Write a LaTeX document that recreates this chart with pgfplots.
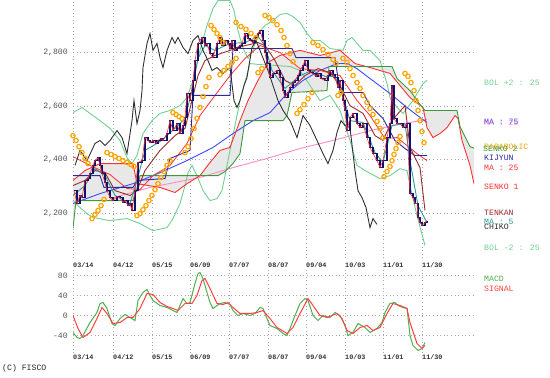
\documentclass[border=0pt]{standalone}
\usepackage{fontspec}
\setmainfont{Liberation Mono}
\usepackage{pgfplots}
\pgfplotsset{compat=1.18}
\usepgfplotslibrary{fillbetween}
\definecolor{candle}{HTML}{10106E}
\definecolor{cred}{HTML}{FF3030}
\definecolor{senkotwo}{HTML}{3C9A3C}
\definecolor{bol}{HTML}{70D090}
\definecolor{mablue}{HTML}{3B4BFF}
\definecolor{mapink}{HTML}{FF8AC8}
\definecolor{kijun}{HTML}{2A2A9A}
\definecolor{tenkan}{HTML}{9A2A2A}
\definecolor{mafive}{HTML}{2A9A9A}
\definecolor{chiko}{HTML}{303030}
\definecolor{sar}{HTML}{FFA500}
\definecolor{macdg}{HTML}{4CAF50}
\definecolor{signalr}{HTML}{FF4040}
\definecolor{gridc}{HTML}{A8A8A8}
\definecolor{txtgray}{HTML}{555555}
\newcommand\lab{\fontsize{8.2}{9}\selectfont}
\newcommand\dlab{\fontsize{6.8}{7}\selectfont\bfseries}
\begin{document}
\begin{tikzpicture}
\path (0bp,0bp) rectangle (550bp,377bp);
\pgfplotsset{
  chartbase/.style={
    anchor=south west, scale only axis, width=401bp,
    xmin=0, xmax=200.5,
    axis line style={draw=none}, major tick length=0pt,
    xtick={0,20,39.5,58.5,78,97.5,116.5,136,155,174.5},
    xticklabels={03/14,04/12,05/15,06/09,07/07,08/07,09/04,10/03,11/01,11/30},
    grid=major,
    major grid style={gridc, line width=1bp, dash pattern=on 1bp off 2.6bp},
    xticklabel style={anchor=west, inner sep=0pt, font=\dlab, text=black!80},
    yticklabel style={anchor=east, inner sep=0pt, xshift=-5bp, font=\lab, text=txtgray},
  }
}
\begin{axis}[chartbase, at={(73bp,119bp)}, height=258bp,
  ymin=2032, ymax=2994,
  ytick={2200,2400,2600,2800},
  yticklabels={{2,200},{2,400},{2,600},{2,800}},
  xticklabel style={yshift=-7bp}]
% Ichimoku cloud
\addplot[name path=sa, draw=none] coordinates {(0,2323)(6,2360)(13.5,2386)(30,2386)(32,2311)(43.5,2297)(51,2278)(57,2311)(63.5,2341)(68.5,2390)(73.5,2435)(78.5,2446)(83.5,2546)(87.5,2621)(92.5,2696)(97.5,2763)(103.5,2789)(113.5,2808)(123.5,2789)(133.5,2808)(141,2759)(148.5,2744)(158.5,2722)(163.5,2677)(168.5,2632)(175,2595)(177,2520)(180,2483)(183.5,2498)(187,2520)(191,2565)(192.5,2554)(194.5,2472)(198.5,2379)(200.5,2311)};
\addplot[name path=sb, draw=none] coordinates {(0,2144)(1.5,2248)(30,2248)(32,2293)(33.5,2341)(72.5,2341)(76,2356)(80,2386)(83.5,2423)(86,2546)(105,2546)(107,2565)(109.5,2651)(127,2658)(128,2748)(159.5,2748)(162,2703)(168.5,2658)(173.5,2606)(176,2584)(192,2584)(193.5,2524)(198.5,2449)(201,2442)};
\addplot[black!9] fill between[of=sa and sb];
% Bollinger bands
\addplot[bol, line width=0.9bp] coordinates {(0,2576)(4.5,2595)(8.5,2573)(13.5,2546)(18.5,2517)(23.5,2472)(27,2408)(29.5,2386)(32,2416)(35,2498)(39.5,2546)(43.5,2573)(48.5,2584)(53.5,2602)(57,2632)(60,2696)(63.5,2808)(67,2901)(70,2964)(72.5,2994)(78.5,2994)(80.5,2957)(82.5,2882)(85,2815)(87.5,2778)(90,2808)(92.5,2871)(96,2901)(100,2919)(103.5,2942)(107,2946)(110,2934)(113.5,2912)(117,2871)(120,2845)(123.5,2845)(128.5,2815)(135,2808)(137,2845)(139.5,2856)(142,2834)(145,2808)(148.5,2808)(153.5,2770)(157,2684)(158.5,2632)(162,2595)(165,2573)(170,2621)(175,2684)(177,2696)};
\addplot[bol, line width=0.9bp] coordinates {(0,2248)(3.5,2222)(7,2199)(10,2185)(18.5,2173)(27,2181)(33.5,2162)(40,2136)(47,2147)(50,2181)(53.5,2237)(56,2304)(57.5,2352)(59.5,2379)(62,2341)(65,2285)(68.5,2248)(72,2255)(74.5,2285)(78.5,2435)(83.5,2621)(88.5,2759)(93.5,2755)(101,2752)(108.5,2748)(113.5,2733)(118.5,2677)(123.5,2621)(128.5,2640)(133.5,2584)(138.5,2472)(142,2379)(146,2360)(153.5,2330)(158.5,2341)(163.5,2367)(167,2360)(168.5,2304)(172,2192)(176,2080)};
% moving averages
\addplot[mapink, line width=0.9bp] coordinates {(18.5,2255)(38.5,2297)(63.5,2334)(80,2371)(97,2405)(113.5,2442)(132,2476)(148.5,2509)(165,2535)(177,2550)};
\addplot[mablue, line width=0.9bp] coordinates {(0,2237)(13.5,2274)(30,2311)(43.5,2352)(57,2397)(70,2446)(80,2498)(90,2546)(98.5,2576)(107,2647)(115,2696)(123.5,2733)(132,2759)(137,2759)(142,2740)(148.5,2703)(158.5,2647)(167,2595)(173.5,2558)(177,2539)};
\addplot[cred, line width=0.8bp] coordinates {(0,2412)(8.5,2379)(18.5,2345)(27,2293)(33.5,2289)(40,2341)(48.5,2379)(57,2461)(63.5,2565)(71,2640)(78.5,2714)(86,2778)(93.5,2826)(103.5,2800)(113.5,2740)(123.5,2733)(133.5,2714)(142,2621)(148.5,2565)(156,2479)(162,2483)(172,2423)(177,2397)};
% senko lines
\addplot[cred, line width=0.9bp] coordinates {(0,2323)(6,2360)(13.5,2386)(30,2386)(32,2311)(43.5,2297)(51,2278)(57,2311)(63.5,2341)(68.5,2390)(73.5,2435)(78.5,2446)(83.5,2546)(87.5,2621)(92.5,2696)(97.5,2763)(103.5,2789)(113.5,2808)(123.5,2789)(133.5,2808)(141,2759)(148.5,2744)(158.5,2722)(163.5,2677)(168.5,2632)(175,2595)(177,2520)(180,2483)(183.5,2498)(187,2520)(191,2565)(192.5,2554)(194.5,2472)(198.5,2379)(200.5,2311)};
\addplot[senkotwo, line width=0.9bp] coordinates {(0,2144)(1.5,2248)(30,2248)(32,2293)(33.5,2341)(72.5,2341)(76,2356)(80,2386)(83.5,2423)(86,2546)(105,2546)(107,2565)(109.5,2651)(127,2658)(128,2748)(159.5,2748)(162,2703)(168.5,2658)(173.5,2606)(176,2584)(192,2584)(193.5,2524)(198.5,2449)(201,2442)};
% kijun, tenkan, MA5
\addplot[kijun, line width=0.9bp] coordinates {(0,2341)(13.5,2341)(15.5,2297)(30,2297)(32,2323)(46,2330)(48.5,2405)(58.5,2435)(60,2640)(78.5,2640)(80,2815)(109.5,2815)(111.5,2781)(131,2781)(133.5,2651)(145,2651)(148.5,2602)(155,2554)(161,2472)(166,2442)(171,2416)(177,2416)};
\addplot[tenkan, line width=0.9bp] coordinates {(0,2304)(6,2323)(11,2360)(16,2352)(21,2285)(28.5,2267)(32,2285)(36,2360)(43.5,2435)(51,2490)(56,2517)(59.5,2621)(62.5,2714)(66,2770)(71,2789)(78.5,2808)(86,2826)(92.5,2837)(96,2826)(101,2770)(106,2696)(111,2677)(116,2714)(122.5,2740)(128.5,2725)(133.5,2677)(138.5,2602)(145,2573)(151,2490)(155,2472)(159.5,2546)(166,2602)(168.5,2446)(173.5,2371)(176,2211)};
\addplot[mafive, line width=0.9bp] coordinates {(0,2267)(6,2304)(11,2367)(16,2341)(21,2267)(28.5,2237)(32,2323)(36,2435)(43.5,2468)(51,2517)(56,2554)(59.5,2658)(62.5,2778)(66,2826)(71,2808)(78.5,2834)(86,2837)(92.5,2860)(96,2826)(99.5,2733)(106,2666)(113.5,2714)(119.5,2733)(126,2711)(131,2711)(135,2640)(138.5,2546)(145,2539)(151,2427)(155,2390)(159.5,2528)(166,2535)(168.5,2397)(172.5,2229)(177,2166)};
% chiko span
\addplot[chiko, line width=0.9bp] coordinates {(1,2379)(3.5,2435)(7,2397)(11,2461)(13.5,2472)(16,2453)(18.5,2472)(22,2509)(24.5,2483)(27,2423)(29.5,2546)(30.5,2621)(32,2535)(33.5,2584)(34.5,2658)(35,2744)(37,2834)(38.5,2871)(40,2808)(42,2834)(43.5,2781)(45,2744)(47,2808)(49.5,2856)(51,2834)(52.5,2856)(55,2819)(57.5,2796)(60,2845)(62.5,2863)(65,2808)(67.5,2770)(69.5,2733)(72,2744)(75,2722)(78.5,2744)(80.5,2621)(82,2595)(83.5,2621)(85.5,2677)(87,2707)(89.5,2819)(91.5,2845)(94.5,2789)(97.5,2733)(100,2677)(102.5,2621)(105,2584)(108.5,2546)(112,2483)(115,2565)(118.5,2528)(122,2472)(125,2423)(127.5,2386)(130,2435)(132,2502)(134,2546)(136,2528)(138.5,2520)(141,2360)(142.5,2285)(144.5,2259)(146.5,2222)(148.5,2147)(150,2181)(152,2159)};
% price (candles)
\addplot[candle, line width=1.4bp, const plot] coordinates {(0.5,2285)(2,2237)(3.5,2267)(4.5,2259)(6,2323)(7.5,2330)(8.5,2349)(10,2379)(11,2397)(12.5,2408)(13.5,2379)(14.5,2349)(16,2315)(17,2285)(18.5,2259)(20,2248)(22,2263)(23.5,2259)(25,2241)(26,2248)(27.5,2229)(28.5,2237)(29.5,2211)(31,2285)(32.5,2390)(34.5,2397)(36,2483)(37.5,2472)(38.5,2464)(40,2472)(41.5,2461)(42.5,2472)(44,2479)(45,2472)(47,2498)(48.5,2546)(50,2509)(52,2535)(53.5,2498)(55,2528)(56,2558)(57,2647)(58.5,2621)(60,2696)(61,2770)(62.5,2834)(64.5,2856)(66,2826)(67,2834)(68.5,2796)(70,2781)(72,2834)(73.5,2856)(74.5,2826)(76,2845)(77.5,2834)(78.5,2815)(79.5,2845)(81,2808)(82,2819)(83.5,2826)(84.5,2834)(86,2871)(87.5,2852)(88.5,2845)(90,2837)(91,2856)(92.5,2871)(93.5,2882)(95,2845)(96,2800)(97,2759)(98.5,2707)(100,2722)(102,2733)(103.5,2707)(105,2658)(106,2632)(107.5,2651)(108.5,2669)(110,2688)(111,2696)(112.5,2714)(113.5,2733)(115,2752)(116,2770)(117.5,2733)(118.5,2725)(120,2722)(121.5,2711)(122.5,2722)(124,2703)(126,2696)(127.5,2714)(128.5,2733)(130,2718)(131,2707)(132.5,2669)(133.5,2696)(135,2621)(136,2584)(137,2509)(138.5,2558)(140,2573)(142,2535)(143.5,2520)(145,2535)(147,2483)(148.5,2446)(150,2423)(152,2397)(153.5,2371)(155,2397)(157,2483)(158.5,2535)(159.5,2677)(160.5,2554)(162,2535)(163.5,2535)(165,2520)(167,2535)(168.5,2274)(170,2259)(171,2237)(172,2237)(172.5,2185)(173.5,2166)(174.5,2155)(176,2166)(177,2173)};
\addplot[cred, line width=0.6bp] coordinates {(0.5,2285)(2,2237)(3.5,2267)(4.5,2259)(6,2323)(7.5,2330)(8.5,2349)(10,2379)(11,2397)(12.5,2408)(13.5,2379)(14.5,2349)(16,2315)(17,2285)(18.5,2259)(20,2248)(22,2263)(23.5,2259)(25,2241)(26,2248)(27.5,2229)(28.5,2237)(29.5,2211)(31,2285)(32.5,2390)(34.5,2397)(36,2483)(37.5,2472)(38.5,2464)(40,2472)(41.5,2461)(42.5,2472)(44,2479)(45,2472)(47,2498)(48.5,2546)(50,2509)(52,2535)(53.5,2498)(55,2528)(56,2558)(57,2647)(58.5,2621)(60,2696)(61,2770)(62.5,2834)(64.5,2856)(66,2826)(67,2834)(68.5,2796)(70,2781)(72,2834)(73.5,2856)(74.5,2826)(76,2845)(77.5,2834)(78.5,2815)(79.5,2845)(81,2808)(82,2819)(83.5,2826)(84.5,2834)(86,2871)(87.5,2852)(88.5,2845)(90,2837)(91,2856)(92.5,2871)(93.5,2882)(95,2845)(96,2800)(97,2759)(98.5,2707)(100,2722)(102,2733)(103.5,2707)(105,2658)(106,2632)(107.5,2651)(108.5,2669)(110,2688)(111,2696)(112.5,2714)(113.5,2733)(115,2752)(116,2770)(117.5,2733)(118.5,2725)(120,2722)(121.5,2711)(122.5,2722)(124,2703)(126,2696)(127.5,2714)(128.5,2733)(130,2718)(131,2707)(132.5,2669)(133.5,2696)(135,2621)(136,2584)(137,2509)(138.5,2558)(140,2573)(142,2535)(143.5,2520)(145,2535)(147,2483)(148.5,2446)(150,2423)(152,2397)(153.5,2371)(155,2397)(157,2483)(158.5,2535)(159.5,2677)(160.5,2554)(162,2535)(163.5,2535)(165,2520)(167,2535)(168.5,2274)(170,2259)(171,2237)(172,2237)(172.5,2185)(173.5,2166)(174.5,2155)(176,2166)(177,2173)};
% parabolic SAR
\addplot[only marks, mark=o, mark size=2.2bp, sar, mark options={line width=1.2bp}] coordinates {
(0,2490)(1.5,2472)(3,2449)(4.5,2427)(6,2405)(7.5,2386)
(9.5,2181)(11,2196)(12.5,2211)(14,2229)(15.5,2252)
(17,2427)(19,2420)(21,2412)(23,2405)(25,2397)(27,2390)(29,2382)(30.5,2375)
(32,2192)(33.5,2199)(35,2214)(36.5,2229)(38,2248)(39.5,2267)(41,2289)(42.5,2311)(44,2334)(45.5,2356)(47,2379)(48.5,2397)
(50,2576)(51.5,2569)(53,2561)(54.5,2554)
(56,2427)(57.5,2449)(59,2479)(60.5,2517)(62,2554)(63.5,2595)(65,2636)(66.5,2673)(68,2707)
(69,2901)(70.5,2886)(72,2871)(73.5,2856)(75,2837)
(73.5,2718)(75.5,2733)(77.5,2748)(79.5,2763)(81.5,2778)
(81.5,2912)(84,2897)(86.5,2886)(89,2871)(91.5,2856)
(92.5,2725)(94.5,2740)
(96,2938)(98,2931)(100,2919)(102,2904)(104,2882)(105.5,2856)(107,2826)(108.5,2796)(110,2766)
(112,2573)(113.5,2587)(115.5,2606)(117.5,2628)(119.5,2651)
(120,2837)(122.5,2826)(125,2811)(127.5,2793)(130,2774)(131.5,2759)
(132.5,2640)(134,2651)
(135,2778)(137,2763)(138.5,2740)(140,2714)(142,2688)(143.5,2666)(145,2640)(147,2614)(148.5,2591)(150,2569)(152,2543)(153.5,2517)(155,2483)
(155.5,2337)(157,2356)(158.5,2375)(159.5,2397)(160.5,2420)(161.5,2442)(162.5,2464)(163.5,2487)
(166,2722)(167.5,2711)(169,2688)(170.5,2658)(171.5,2621)(172.5,2584)(173.5,2546)(174.5,2505)(175.5,2464)};
\end{axis}
\begin{axis}[chartbase, at={(73bp,24bp)}, height=85bp,
  ymin=-76, ymax=94,
  ytick={-40,0,40,80}, yticklabels={-40,0,40,80},
  xticklabel style={yshift=-4bp}]
\addplot[macdg, line width=1bp] coordinates {(0,-34)(2,-44)(3.5,-46)(5,-40)(8.5,-14)(12,6)(13.5,24)(15,26)(17,14)(19.5,-16)(21,-20)(23.5,-6)(26,2)(28.5,-4)(31,-10)(32.5,30)(35,46)(37,52)(38.5,40)(40,30)(43.5,20)(47,16)(50,10)(52,6)(53.5,20)(55,34)(57,24)(58.5,26)(61,64)(62.5,84)(63.5,86)(65,74)(67,46)(68.5,26)(70,14)(73.5,24)(76,26)(78.5,22)(80,10)(82.5,0)(85,4)(88.5,0)(91,4)(93.5,16)(95,14)(97,-6)(98.5,-20)(102,-26)(105,-36)(107,-40)(108.5,-26)(111,0)(113.5,24)(116,34)(117.5,30)(120,0)(122.5,-10)(125,0)(128.5,-4)(131,6)(133.5,0)(136,-20)(137.5,-40)(140,-34)(142.5,-16)(146,-24)(148.5,-34)(152,-26)(154.5,-14)(156,6)(158.5,24)(161,26)(162.5,20)(165,16)(167,14)(168.5,-40)(170,-60)(172.5,-70)(174.5,-66)(176,-54)};
\addplot[signalr, line width=1bp] coordinates {(0,0)(2.5,-26)(5,-44)(8.5,-34)(12,-6)(14.5,16)(17,4)(20,-16)(23.5,-14)(27,-4)(30,-4)(33.5,14)(37,44)(40,42)(43.5,26)(47,18)(50,14)(52.5,10)(56,24)(59.5,24)(62,40)(64.5,70)(66,74)(68.5,54)(72,24)(75,22)(77.5,26)(80,16)(83.5,4)(88.5,4)(92,6)(95,10)(98.5,-6)(102,-24)(107,-36)(110,-24)(113.5,4)(117.5,34)(120,20)(123.5,0)(127,-4)(132,4)(134.5,-6)(137,-30)(140,-36)(143.5,-24)(147,-20)(150,-30)(153.5,-24)(157,4)(160,24)(163.5,20)(167,14)(168.5,-14)(172,-56)(174.5,-66)(176,-60)};
\end{axis}
% right-hand legend texts
\begin{scope}[every node/.style={anchor=west, inner sep=0pt, font=\lab}]
\node[text=bol] at (484bp,295bp) {BOL +2 : 25};
\node[text=mapink] at (484bp,255bp) {MA : 25};
\node[text=mablue!80!mapink] at (484bp,255.5bp) {MA : 75};
\node[text=sar] at (484bp,231bp) {PARABOLIC};
\node[text=senkotwo] at (483bp,229bp) {SENKO 2};
\node[text=kijun] at (484bp,220bp) {KIJYUN};
\node[text=cred] at (484bp,210bp) {MA : 25};
\node[text=cred] at (484bp,191bp) {SENKO 1};
\node[text=tenkan] at (484bp,165bp) {TENKAN};
\node[text=mafive] at (484bp,156bp) {MA : 5};
\node[text=chiko] at (484bp,151bp) {CHIKO};
\node[text=bol] at (484bp,130bp) {BOL -2 : 25};
\node[text=macdg] at (484bp,99bp) {MACD};
\node[text=signalr] at (484bp,89bp) {SIGNAL};
\node[text=black!85] at (2bp,9bp) {(C) FISCO};
\end{scope}
\end{tikzpicture}
\end{document}
